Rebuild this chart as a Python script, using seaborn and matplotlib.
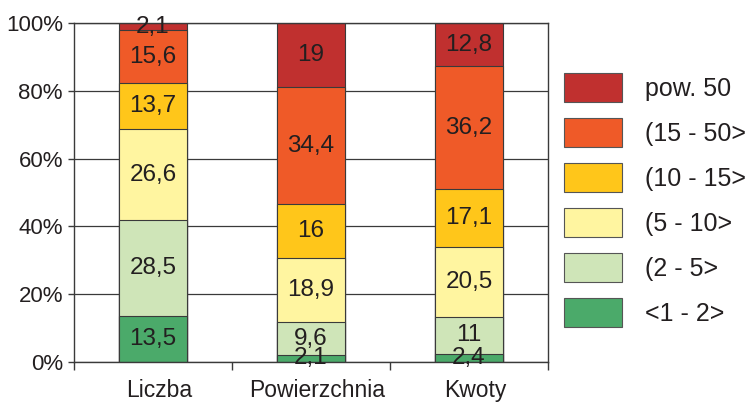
import numpy as np
import pandas as pd
import matplotlib
matplotlib.use('Agg')
import matplotlib.pyplot as plt
import matplotlib.transforms as mtransforms
from matplotlib.patches import Patch
import seaborn as sns

# data (percent shares)
categories = ['Liczba', 'Powierzchnia', 'Kwoty']
groups = ['<1 - 2>', '(2 - 5>', '(5 - 10>', '(10 - 15>', '(15 - 50>', 'pow. 50']
liczba = [13.5, 28.5, 26.6, 13.7, 15.6, 2.1]
powierzchnia = [2.1, 9.6, 18.9, 16, 34.4, 19]
kwoty = [2.4, 11, 20.5, 17.1, 36.2, 12.8]
colors = ['#4BAA6A', '#CFE5B8', '#FFF5A0', '#FFC61A', '#EF5A28', '#C0302F']

sns.set_style('white')
plt.rcParams['font.family'] = ['Liberation Sans', 'DejaVu Sans']
txt_color = '#231F20'
line_color = '#3a3a3a'

df = pd.DataFrame({'Liczba': liczba, 'Powierzchnia': powierzchnia, 'Kwoty': kwoty}, index=groups)
cum = df.cumsum()

fig = plt.figure(figsize=(7.48, 4.03), dpi=100)
ax = fig.add_axes([74 / 748, 1 - 362 / 403, 474 / 748, 339 / 403])

# overlay cumulative bars from top segment down -> stacked look
for i in reversed(range(len(groups))):
    sns.barplot(x=categories, y=cum.iloc[i][categories].values, color=colors[i],
                saturation=1, width=0.43, edgecolor=line_color, linewidth=0.8, ax=ax)

# segment labels
def fmt(v):
    return str(int(v)) if float(v).is_integer() else f'{v}'.replace('.', ',')

for j, cat in enumerate(categories):
    bottom = 0
    for g in groups:
        v = df.loc[g, cat]
        ax.text(j, bottom + v / 2, fmt(v), ha='center', va='center',
                fontsize=17.5, color=txt_color, zorder=5)
        bottom += v

ax.set_xlim(-0.5, 2.5)
ax.set_ylim(0, 100)
ax.set_yticks(range(0, 101, 20))
ax.set_yticklabels([f'{v}%' for v in range(0, 101, 20)], fontsize=16, color=txt_color)
ax.set_xticks(range(3))
ax.set_xticklabels(categories, fontsize=16.5, color=txt_color)
ax.set_xticks([-0.5, 0.5, 1.5, 2.5], minor=True)
ax.tick_params(axis='x', which='major', length=0, pad=12)
ax.tick_params(axis='x', which='minor', length=6, width=1, color=line_color, direction='out', bottom=True)
ax.tick_params(axis='y', length=4, width=1, color=line_color, direction='out', left=True, pad=4)
ax.set_xlabel('')
ax.set_ylabel('')

# category labels sit a bit right of the bar centres in the original
shift = mtransforms.ScaledTranslation(6 / 100, 0, fig.dpi_scale_trans)
for lab in ax.get_xticklabels():
    lab.set_transform(lab.get_transform() + shift)

ax.yaxis.grid(True, color=line_color, linewidth=0.9)
ax.set_axisbelow(True)
for s in ax.spines.values():
    s.set_visible(True)
    s.set_color(line_color)
    s.set_linewidth(1)

handles = [Patch(facecolor=c, edgecolor='#555555', linewidth=0.8) for c in colors][::-1]
fig.legend(handles, groups[::-1], loc='upper left', bbox_to_anchor=(564 / 748, 1 - 73 / 403),
           frameon=False, fontsize=18, handlelength=2.32, handleheight=1.41,
           labelspacing=0.64, handletextpad=0.92, borderpad=0, borderaxespad=0,
           labelcolor=txt_color)

fig.savefig('out.png', dpi=100)
